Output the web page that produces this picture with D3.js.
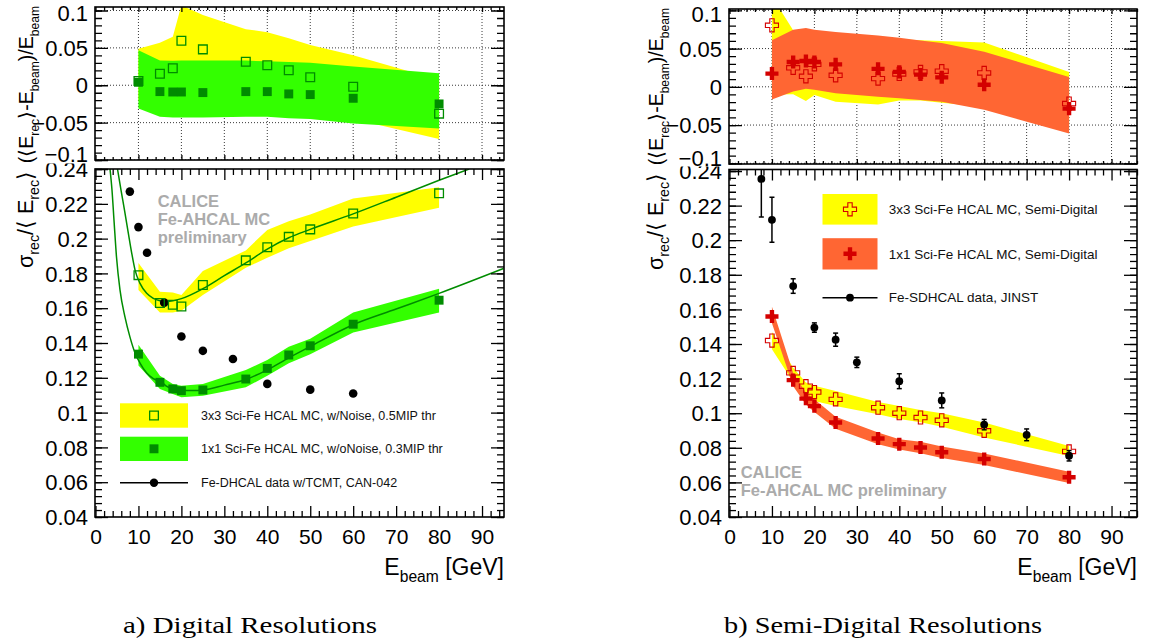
<!DOCTYPE html>
<html><head><meta charset="utf-8">
<script src="https://cdn.jsdelivr.net/npm/d3@7"></script>
<style>
html,body{margin:0;padding:0;background:#fff;}
svg{display:block;font-family:"Liberation Sans",Arial,Helvetica,sans-serif;}
</style></head><body>
<svg id="chart" width="1153" height="642"></svg>
<script>
// ================= DATA =================
const energies = [10,15,18,20,25,35,40,45,50,60,80];

// ---- (a) Digital: linearity (top) ----
const dig3x3Lin   = [0.0057,0.0155,0.0227,0.0595,0.048,0.0315,0.0267,0.020,0.0107,-0.002,-0.038];
const dig1x1Lin   = [0.004,-0.0085,-0.009,-0.009,-0.0098,-0.0085,-0.0085,-0.0116,-0.0125,-0.0174,-0.025];
const dig3x3LinHi = [0.049,0.057,0.065,0.107,0.094,0.075,0.071,0.063,0.054,0.040,0.007];
const dig3x3LinLo = [-0.02,-0.03,-0.032,-0.032,-0.033,-0.032,-0.032,-0.035,-0.038,-0.045,-0.072];
const dig1x1LinHi = [0.047,0.033,0.0327,0.033,0.033,0.033,0.032,0.031,0.030,0.025,0.016];
const dig1x1LinLo = [-0.031,-0.042,-0.043,-0.043,-0.0433,-0.042,-0.042,-0.044,-0.045,-0.051,-0.058];

// ---- (a) Digital: resolution (bottom) ----
const dig3x3Res   = [0.179,0.163,0.162,0.161,0.1733,0.1875,0.195,0.201,0.2053,0.2144,0.226];
const dig1x1Res   = [0.1336,0.1174,0.1136,0.1126,0.113,0.1193,0.1254,0.1331,0.1384,0.1508,0.1646];
const dig3x3ResHi = [0.186,0.1695,0.169,0.1676,0.1814,0.1932,0.205,0.210,0.2139,0.223,0.2295];
const dig3x3ResLo = [0.1705,0.1575,0.1575,0.1585,0.1676,0.1833,0.189,0.1944,0.1986,0.207,0.2177];
const dig1x1ResHi = [0.139,0.1212,0.1164,0.1155,0.1164,0.1245,0.1302,0.1378,0.1425,0.1575,0.1712];
const dig1x1ResLo = [0.127,0.1136,0.1107,0.1088,0.1097,0.1145,0.1212,0.1283,0.1336,0.146,0.1575];
const dig3x3FitE   = [5.12,5.94,6.75,7.64,8.43,9.2,10.36,11.92,13.46,15.0,16.6,20,25,30,35,40,45,50,60,70,80,87];
const dig3x3FitRes = [0.24,0.2279,0.2164,0.2032,0.1917,0.182,0.1743,0.1686,0.1657,0.1643,0.1638,0.1655,0.1712,0.1787,0.186,0.194,0.2005,0.2053,0.2142,0.2238,0.2335,0.2400];
const dig1x1FitE   = [3.38,3.84,4.35,4.89,5.70,6.87,8.03,9.2,10.36,11.92,13.46,15.41,16.5,18,20,22.5,25,30,35,40,45,50,60,70,80,95];
const dig1x1FitRes = [0.24,0.2279,0.2089,0.1894,0.1705,0.1549,0.1434,0.1343,0.1285,0.1228,0.1195,0.1175,0.1152,0.1138,0.1129,0.1127,0.113,0.1158,0.119,0.1246,0.1315,0.138,0.1505,0.1595,0.1685,0.1828];
const dhcalE   = [8,10,12,16,20,25,32,40,50,60];
const dhcalRes = [0.227,0.2066,0.1919,0.1632,0.1437,0.1355,0.1308,0.1165,0.1132,0.111];

// ---- (b) Semi-digital: linearity (top) ----
const sd3x3Lin   = [0.0804,0.0248,0.0137,0.0293,0.015,0.0107,0.0168,0.0195,0.0204,0.0181,-0.0219];
const sd1x1Lin   = [0.0173,0.0324,0.0337,0.0324,0.0293,0.0235,0.0195,0.016,0.0124,0.0027,-0.0285];
const sd3x3LinHi = [0.118,0.074,0.075,0.073,0.068,0.063,0.062,0.061,0.060,0.058,0.0195];
const sd3x3LinLo = [-0.01,-0.0098,-0.0187,-0.0107,-0.0196,-0.0232,-0.0178,-0.018,-0.021,-0.026,-0.05];
const sd1x1LinHi = [0.061,0.0747,0.0768,0.0747,0.0715,0.067,0.064,0.0604,0.0573,0.0457,0.0128];
const sd1x1LinLo = [-0.0165,-0.0063,-0.0027,-0.004,-0.0085,-0.013,-0.015,-0.0173,-0.0196,-0.03,-0.061];

// ---- (b) Semi-digital: resolution (bottom) ----
const sd3x3Res   = [0.142,0.1233,0.1156,0.1122,0.108,0.1032,0.1,0.0975,0.0959,0.0898,0.0779];
const sd1x1Res   = [0.1559,0.1191,0.1084,0.1041,0.0946,0.0854,0.0821,0.0802,0.0774,0.0735,0.063];
const sd3x3ResHi = [0.147,0.1262,0.1178,0.1159,0.1128,0.1065,0.1041,0.1018,0.1,0.0946,0.081];
const sd3x3ResLo = [0.137,0.118,0.109,0.107,0.1041,0.0994,0.0966,0.0948,0.0922,0.086,0.0752];
const sd1x1ResHi = [0.1616,0.1233,0.1118,0.108,0.098,0.0888,0.085,0.0835,0.0808,0.0767,0.0662];
const sd1x1ResLo = [0.152,0.1156,0.1051,0.1007,0.091,0.0821,0.079,0.0768,0.0741,0.07,0.0597];
const sdhcalE   = [7.5,10,15,20,25,30,40,50,60,70,80];
const sdhcalRes = [0.2354,0.2118,0.1735,0.1495,0.1425,0.1294,0.1185,0.1074,0.0934,0.0875,0.0754];
const sdhcalErr = [0.022,0.013,0.0042,0.0027,0.0038,0.003,0.0043,0.0043,0.003,0.0034,0.003];

// ---- ticks / labels ----
const xMajorTicks   = [0,10,20,30,40,50,60,70,80,90];
const linMajorTicks = [-0.1,-0.05,0,0.05,0.1];
const resMajorTicks = [0.04,0.06,0.08,0.1,0.12,0.14,0.16,0.18,0.2,0.22,0.24];
const legendDigital = ["3x3 Sci-Fe HCAL MC, w/Noise, 0.5MIP thr","1x1 Sci-Fe HCAL MC, w/oNoise, 0.3MIP thr","Fe-DHCAL data w/TCMT, CAN-042"];
const legendSemi    = ["3x3 Sci-Fe HCAL MC, Semi-Digital","1x1 Sci-Fe HCAL MC, Semi-Digital","Fe-SDHCAL data, JINST"];
const captions = ["a) Digital Resolutions","b) Semi-Digital Resolutions"];
const caliceLeft  = ["CALICE","Fe-AHCAL MC","preliminary"];
const caliceRight = ["CALICE","Fe-AHCAL MC preliminary"];

// ================= STYLE =================
const C = {yellow:"#ffff00", green:"#33ff00", dkgreen:"#008c00", orange:"#ff6633", red:"#d40000", gray:"#ababab"};
const W=1153, H=642;
const svg = d3.select("#chart");
const defs = svg.append("defs");
svg.append("rect").attr("width",W).attr("height",H).attr("fill","#fff");

function fmt(d){ if(Math.abs(d)<1e-9) return "0"; const s=String(+Math.abs(d).toFixed(3)); return (d<0?"\u2212":"")+s; }
const zip = (xs, ...arrs) => xs.map((e,i)=>({e, v:arrs.map(a=>a[i])}));

let clipN=0;
function clipRect(x,y,w,h){ const id="cp"+(clipN++); defs.append("clipPath").attr("id",id).append("rect").attr("x",x).attr("y",y).attr("width",w).attr("height",h); return `url(#${id})`; }

function panel(p){
  const [fx0,fx1,fy0,fy1]=p.frame;
  const x=d3.scaleLinear().domain(p.xDom).range(p.xRng);
  const y=d3.scaleLinear().domain(p.yDom).range(p.yRng);
  const g=svg.append("g");
  const plot=g.append("g").attr("clip-path",clipRect(fx0,fy0,fx1-fx0,fy1-fy0));
  const over=g.append("g");
  if(p.grid){
    const gg=plot.append("g").attr("stroke","#222").attr("stroke-width",0.9).attr("stroke-dasharray","1,2");
    gg.selectAll("line.vx").data(xMajorTicks.filter(d=>d>0)).join("line").attr("x1",d=>x(d)).attr("x2",d=>x(d)).attr("y1",fy0).attr("y2",fy1);
    gg.selectAll("line.hy").data(p.yMajor).join("line").attr("x1",fx0).attr("x2",fx1).attr("y1",d=>y(d)).attr("y2",d=>y(d));
  }
  const axG=g.append("g").attr("clip-path",clipRect(0,p.pad[0],W,p.pad[1]-p.pad[0]));
  const xMinor=d3.range(0,p.xDom[1]+0.001,2).filter(d=>d%10!==0);
  const yMinor=d3.range(0,Math.round((p.yDom[1]-p.yMajor[0])/p.yMinorStep)+1).map(i=>p.yMajor[0]+i*p.yMinorStep).filter(v=>v<=p.yDom[1]+1e-9 && v>=p.yDom[0]-1e-9);
  const styleAx=(s)=>{s.select(".domain").remove(); s.selectAll("line").attr("stroke","#000").attr("stroke-width",1.3);};
  const la=axG.append("g").attr("transform",`translate(${fx0},0)`).call(d3.axisLeft(y).tickValues(p.yMajor).tickSize(-p.yT[0]).tickPadding(7).tickFormat(fmt)).call(styleAx);
  la.attr("font-size",null).attr("font-family",null);
  la.selectAll("text").attr("font-size",22).attr("fill","#000").attr("dy","0.35em");
  if(p.clamp){ la.selectAll(".tick").each(function(d){ const py=y(d); const c=Math.min(Math.max(py,fy0+p.clamp[0]),fy1-p.clamp[1]); d3.select(this).select("text").attr("y",c-py);}); }
  axG.append("g").attr("transform",`translate(${fx0},0)`).call(d3.axisLeft(y).tickValues(yMinor).tickSize(-p.yT[1]).tickFormat("")).call(styleAx);
  axG.append("g").attr("transform",`translate(${fx1},0)`).call(d3.axisRight(y).tickValues(p.yMajor).tickSize(-p.yT[0]).tickFormat("")).call(styleAx);
  axG.append("g").attr("transform",`translate(${fx1},0)`).call(d3.axisRight(y).tickValues(yMinor).tickSize(-p.yT[1]).tickFormat("")).call(styleAx);
  const ba=axG.append("g").attr("transform",`translate(0,${fy1})`).call(d3.axisBottom(x).tickValues(xMajorTicks).tickSize(-p.xT[0]).tickPadding(12).tickFormat(p.xLabels?d3.format("d"):"")).call(styleAx);
  ba.attr("font-size",null).attr("font-family",null);
  ba.selectAll("text").attr("font-size",21).attr("fill","#000");
  axG.append("g").attr("transform",`translate(0,${fy1})`).call(d3.axisBottom(x).tickValues(xMinor).tickSize(-p.xT[1]).tickFormat("")).call(styleAx);
  axG.append("g").attr("transform",`translate(0,${fy0})`).call(d3.axisTop(x).tickValues(xMajorTicks).tickSize(-p.xT[0]).tickFormat("")).call(styleAx);
  axG.append("g").attr("transform",`translate(0,${fy0})`).call(d3.axisTop(x).tickValues(xMinor).tickSize(-p.xT[1]).tickFormat("")).call(styleAx);
  g.append("rect").attr("x",fx0).attr("y",fy0).attr("width",fx1-fx0).attr("height",fy1-fy0).attr("fill","none").attr("stroke","#000").attr("stroke-width",1.6);
  return {g,plot,over,x,y,frame:p.frame};
}

function band(P, es, hi, lo, color){
  const area=d3.area().x(d=>P.x(d.e)).y0(d=>P.y(d.v[1])).y1(d=>P.y(d.v[0]));
  P.plot.append("path").datum(zip(es,hi,lo)).attr("d",area).attr("fill",color).attr("stroke","none");
}
function fitLine(P, es, vs, color){
  const line=d3.line().x(d=>P.x(d.e)).y(d=>P.y(d.v[0])).curve(d3.curveMonotoneX);
  P.plot.append("path").datum(zip(es,vs)).attr("d",line).attr("fill","none").attr("stroke",color).attr("stroke-width",1.5);
}
const sqSym = d3.symbol().type(d3.symbolSquare).size(76);
const sqSymF = d3.symbol().type(d3.symbolSquare).size(80);
const crSym = d3.symbol().type(d3.symbolCross).size(95);
function markers(P, es, vs, kind){
  const data=zip(es,vs);
  const s=P.over.append("g").selectAll("path").data(data).join("path")
    .attr("transform",d=>`translate(${P.x(d.e)},${P.y(d.v[0])})`);
  if(kind==="openSq") s.attr("d",sqSym).attr("fill","none").attr("stroke",C.dkgreen).attr("stroke-width",1.3);
  if(kind==="fullSq") s.attr("d",sqSymF).attr("fill",C.dkgreen);
  if(kind==="openCr") s.attr("d",crSym).attr("fill","none").attr("stroke",C.red).attr("stroke-width",1.1);
  if(kind==="fullCr") s.attr("d",crSym).attr("fill",C.red);
}
function dots(P, es, vs, r){
  P.over.append("g").selectAll("circle").data(zip(es,vs)).join("circle")
    .attr("cx",d=>P.x(d.e)).attr("cy",d=>P.y(d.v[0])).attr("r",r).attr("fill","#000");
}
function errBars(P, es, vs, errs){
  const g=P.plot.append("g").attr("stroke","#000").attr("stroke-width",1.5);
  const data=zip(es,vs,errs);
  g.selectAll("line.v").data(data).join("line").attr("x1",d=>P.x(d.e)).attr("x2",d=>P.x(d.e)).attr("y1",d=>P.y(d.v[0]-d.v[1])).attr("y2",d=>P.y(d.v[0]+d.v[1]));
  g.selectAll("line.lo").data(data).join("line").attr("x1",d=>P.x(d.e)-2.5).attr("x2",d=>P.x(d.e)+2.5).attr("y1",d=>P.y(d.v[0]-d.v[1])).attr("y2",d=>P.y(d.v[0]-d.v[1]));
  g.selectAll("line.hi").data(data).join("line").attr("x1",d=>P.x(d.e)-2.5).attr("x2",d=>P.x(d.e)+2.5).attr("y1",d=>P.y(d.v[0]+d.v[1])).attr("y2",d=>P.y(d.v[0]+d.v[1]));
}
function rich(parent, x, y, parts, size, anchor, rotate, subR){
  subR = subR || 0.68;
  const t=parent.append("text").attr("font-size",size).attr("text-anchor",anchor).attr("fill","#000")
    .attr("transform",`translate(${x},${y})`+(rotate?" rotate(-90)":""));
  let down=false;
  parts.forEach(p=>{
    const ts=t.append("tspan").text(p[0]);
    if(p[1]){ ts.attr("font-size",size*subR); if(!down){ts.attr("dy",size*0.3); down=true;} }
    else if(down){ ts.attr("dy",-size*0.3); down=false; }
  });
  return t;
}
const titleLin=[["(\u27E8E"],["rec",1],["\u27E9-E"],["beam",1],[")/E"],["beam",1]];
const titleRes=[["\u03C3"],["rec",1],["/\u27E8 E"],["rec",1],["\u27E9"]];
const titleX=[["E"],["beam",1],[" [GeV]"]];

// ================= LEFT (a) =================
const LT=panel({frame:[95,504,7,160], xDom:[0,95], xRng:[95.5,503.5], yDom:[-0.1,0.1047], yRng:[160,7],
  yMajor:linMajorTicks, yMinorStep:0.01, yT:[13,7], xT:[5,3], grid:true, xLabels:false, pad:[0,163.5], clamp:[5.5,6]});
band(LT, energies, dig3x3LinHi, dig3x3LinLo, C.yellow);
band(LT, energies, dig1x1LinHi, dig1x1LinLo, C.green);
markers(LT, energies, dig3x3Lin, "openSq");
markers(LT, energies, dig1x1Lin, "fullSq");

const LB=panel({frame:[95,504,169,517], xDom:[0,95], xRng:[95.5,503.5], yDom:[0.04,0.24], yRng:[517,169],
  yMajor:resMajorTicks, yMinorStep:0.004, yT:[13,7], xT:[11,6], grid:false, xLabels:true, pad:[163.5,642]});
band(LB, energies, dig3x3ResHi, dig3x3ResLo, C.yellow);
band(LB, energies, dig1x1ResHi, dig1x1ResLo, C.green);
dots(LB, dhcalE, dhcalRes, 4.3);
markers(LB, energies, dig3x3Res, "openSq");
markers(LB, energies, dig1x1Res, "fullSq");
fitLine(LB, dig3x3FitE, dig3x3FitRes, C.dkgreen);
fitLine(LB, dig1x1FitE, dig1x1FitRes, C.dkgreen);
rich(svg, 33, 6, titleLin, 19.5, "end", true, 0.62);
rich(svg, 33, 171, titleRes, 21.5, "end", true, 0.66);
rich(svg, 504, 575, titleX, 23, "end", false);

svg.append("g").attr("font-weight","bold").attr("font-size",16.5).attr("fill",C.gray)
  .selectAll("text").data(caliceLeft).join("text").attr("x",157.7).attr("y",(d,i)=>206.7+i*18.3).text(d=>d);

(function(){
  const g=svg.append("g");
  const bx=120, bw=68, mx=154;
  g.append("rect").attr("x",bx).attr("y",403.3).attr("width",bw).attr("height",24.4).attr("fill",C.yellow);
  g.append("rect").attr("x",bx).attr("y",436.7).attr("width",bw).attr("height",24.3).attr("fill",C.green);
  g.append("path").attr("d",sqSym).attr("transform",`translate(${mx},415.5)`).attr("fill","none").attr("stroke",C.dkgreen).attr("stroke-width",1.3);
  g.append("path").attr("d",sqSymF).attr("transform",`translate(${mx},448.8)`).attr("fill",C.dkgreen);
  g.append("line").attr("x1",bx).attr("x2",bx+bw).attr("y1",482.7).attr("y2",482.7).attr("stroke","#000").attr("stroke-width",1.5);
  g.append("circle").attr("cx",mx).attr("cy",482.7).attr("r",4.2).attr("fill","#000");
  g.selectAll("text").data(legendDigital).join("text").attr("x",201).attr("y",(d,i)=>[415.5,448.8,482.7][i]+4.4)
    .attr("font-size",12.5).attr("fill","#111").text(d=>d);
})();

// ================= RIGHT (b) =================
const RT=panel({frame:[729,1137,9,164], xDom:[0,96], xRng:[729.5,1137], yDom:[-0.1,0.1], yRng:[163.3,10.3],
  yMajor:linMajorTicks, yMinorStep:0.01, yT:[13,7], xT:[5,3], grid:true, xLabels:false, pad:[0,166.5], clamp:[4.5,6]});
band(RT, energies, sd3x3LinHi, sd3x3LinLo, C.yellow);
band(RT, energies, sd1x1LinHi, sd1x1LinLo, C.orange);
markers(RT, energies, sd3x3Lin, "openCr");
markers(RT, energies, sd1x1Lin, "fullCr");

const RB=panel({frame:[729,1137,169.5,517], xDom:[0,96], xRng:[729.5,1137], yDom:[0.04,0.24], yRng:[517,171],
  yMajor:resMajorTicks, yMinorStep:0.004, yT:[13,7], xT:[11,6], grid:false, xLabels:true, pad:[166.5,642]});
band(RB, energies, sd3x3ResHi, sd3x3ResLo, C.yellow);
band(RB, energies, sd1x1ResHi, sd1x1ResLo, C.orange);
markers(RB, energies, sd3x3Res, "openCr");
markers(RB, energies, sd1x1Res, "fullCr");
errBars(RB, sdhcalE, sdhcalRes, sdhcalErr);
dots(RB, sdhcalE, sdhcalRes, 3.9);
rich(svg, 663, 8, titleLin, 19.5, "end", true, 0.62);
rich(svg, 663, 173, titleRes, 21.5, "end", true, 0.66);
rich(svg, 1137, 575, titleX, 23, "end", false);

svg.append("g").attr("font-weight","bold").attr("font-size",16.5).attr("fill",C.gray)
  .selectAll("text").data(caliceRight).join("text").attr("x",740.7).attr("y",(d,i)=>477.5+i*18.5).text(d=>d);

(function(){
  const g=svg.append("g");
  const bx=822.5, bw=55, mx=850;
  g.append("rect").attr("x",bx).attr("y",194).attr("width",bw).attr("height",30.6).attr("fill",C.yellow);
  g.append("rect").attr("x",bx).attr("y",238.2).attr("width",bw).attr("height",31.3).attr("fill",C.orange);
  g.append("path").attr("d",crSym).attr("transform",`translate(${mx},209.3)`).attr("fill","none").attr("stroke",C.red).attr("stroke-width",1.1);
  g.append("path").attr("d",crSym).attr("transform",`translate(${mx},253.8)`).attr("fill",C.red);
  g.append("line").attr("x1",bx).attr("x2",bx+bw).attr("y1",297.7).attr("y2",297.7).attr("stroke","#000").attr("stroke-width",1.5);
  g.append("circle").attr("cx",mx).attr("cy",297.7).attr("r",3.9).attr("fill","#000");
  g.selectAll("text").data(legendSemi).join("text").attr("x",888.7).attr("y",(d,i)=>[209.3,253.8,297.7][i]+4.7)
    .attr("font-size",13.5).attr("fill","#111").text(d=>d);
})();

// ================= CAPTIONS =================
svg.append("g").attr("font-family",'"Liberation Serif","Times New Roman",serif').attr("font-size",24).attr("fill","#000")
  .selectAll("text").data(captions).join("text").attr("x",(d,i)=>[250,883][i]).attr("y",633).attr("text-anchor","middle")
  .attr("textLength",(d,i)=>[254,318][i]).attr("lengthAdjust","spacingAndGlyphs").text(d=>d);
</script>
</body></html>
